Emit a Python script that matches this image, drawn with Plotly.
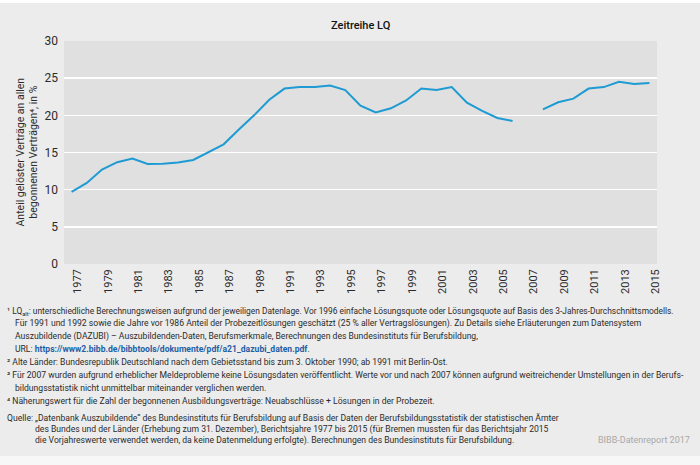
import plotly.graph_objects as go

years = list(range(1977, 2016))
lq_values = [9.7, 10.9, 12.7, 13.7, 14.2, 13.45, 13.5, 13.65, 14.0, 15.0,
             16.1, 18.1, 20.0, 22.1, 23.6, 23.8, 23.8, 24.0, 23.4, 21.3,
             20.4, 20.95, 22.0, 23.6, 23.4, 23.8, 21.7, 20.6, 19.65, 19.25,
             None, 20.8, 21.75, 22.25, 23.6, 23.8, 24.5, 24.2, 24.35]
tick_years = list(range(1977, 2016, 2))
tick_labels = [str(y) for y in tick_years]

title_text = "Zeitreihe LQ"
y_title = "Anteil gelöster Verträge an allen<br>begonnenen Verträgen⁴, in %"

footnotes = [
    (5, 8.4, "¹ LQ<sub>alt</sub>: unterschiedliche Berechnungsweisen aufgrund der jeweiligen Datenlage. Vor 1996 einfache Lösungsquote oder Lösungsquote auf Basis des 3-Jahres-Durchschnittsmodells."),
    (13, 8.6, "Für 1991 und 1992 sowie die Jahre vor 1986 Anteil der Probezeitlösungen geschätzt (25 % aller Vertragslösungen). Zu Details siehe Erläuterungen zum Datensystem"),
    (13, 8.6, "Auszubildende (DAZUBI) – Auszubildenden-Daten, Berufsmerkmale, Berechnungen des Bundesinstituts für Berufsbildung,"),
    (13, 8.6, "URL: <b><span style='color:#1f5fa6'>https://www2.bibb.de/bibbtools/dokumente/pdf/a21_dazubi_daten.pdf</span></b>."),
    (5, 8.6, "² Alte Länder: Bundesrepublik Deutschland nach dem Gebietsstand bis zum 3. Oktober 1990; ab 1991 mit Berlin-Ost."),
    (5, 8.6, "³ Für 2007 wurden aufgrund erheblicher Meldeprobleme keine Lösungsdaten veröffentlicht. Werte vor und nach 2007 können aufgrund weitreichender Umstellungen in der Berufs-"),
    (13, 8.6, "bildungsstatistik nicht unmittelbar miteinander verglichen werden."),
    (5, 8.6, "⁴ Näherungswert für die Zahl der begonnenen Ausbildungsverträge: Neuabschlüsse + Lösungen in der Probezeit."),
]
source_label = "Quelle:"
source_lines = [
    "„Datenbank Auszubildende“ des Bundesinstituts für Berufsbildung auf Basis der Daten der Berufsbildungsstatistik der statistischen Ämter",
    "des Bundes und der Länder (Erhebung zum 31. Dezember), Berichtsjahre 1977 bis 2015 (für Bremen mussten für das Berichtsjahr 2015",
    "die Vorjahreswerte verwendet werden, da keine Datenmeldung erfolgte). Berechnungen des Bundesinstituts für Berufsbildung.",
]
brand = "BIBB-Datenreport 2017"

W, H = 700, 465
L, R, T, B = 64, 43, 41, 201
pw, ph = W - L - R, H - T - B
FONT = "Roboto, 'Noto Sans', sans-serif"
TXT = "#2b2b2b"

def px(x):
    return (x - L) / pw

def py(y):
    return (H - B - y) / ph

fig = go.Figure()
fig.add_trace(go.Scatter(
    x=years, y=lq_values, mode="lines", connectgaps=False,
    line=dict(color="#1e9bd2", width=2), hoverinfo="skip", showlegend=False,
))

ann = []
ann.append(dict(x=px(360.5), y=py(25), xref="paper", yref="paper", text=title_text,
                showarrow=False, xanchor="center", yanchor="middle",
                font=dict(family=FONT, size=11, color="#111", weight=500)))
ann.append(dict(x=px(27), y=py(152.5), xref="paper", yref="paper", text=y_title,
                showarrow=False, xanchor="center", yanchor="middle", textangle=-90,
                font=dict(family=FONT, size=10.5, color=TXT)))

y0, dy = 311, 12.8
for i, (xx, fs, t) in enumerate(footnotes):
    ann.append(dict(x=px(xx), y=py(y0 + i * dy), xref="paper", yref="paper", text=t,
                    showarrow=False, xanchor="left", yanchor="middle", align="left",
                    font=dict(family=FONT, size=fs, color=TXT)))
qy0, qdy = 418, 11
ann.append(dict(x=px(5), y=py(qy0), xref="paper", yref="paper", text=source_label,
                showarrow=False, xanchor="left", yanchor="middle",
                font=dict(family=FONT, size=8.6, color=TXT)))
for i, t in enumerate(source_lines):
    ann.append(dict(x=px(33), y=py(qy0 + i * qdy), xref="paper", yref="paper", text=t,
                    showarrow=False, xanchor="left", yanchor="middle", align="left",
                    font=dict(family=FONT, size=8.6, color=TXT)))
ann.append(dict(x=px(692), y=py(qy0 + 2 * qdy), xref="paper", yref="paper", text=brand,
                showarrow=False, xanchor="right", yanchor="middle",
                font=dict(family=FONT, size=9, color="#a8a8a8")))

shapes = [
    dict(type="rect", xref="paper", yref="paper", x0=px(-5), x1=px(W + 5), y0=py(3), y1=py(-5),
         fillcolor="white", line=dict(width=0), layer="below"),
    dict(type="rect", xref="paper", yref="paper", x0=px(-5), x1=px(W + 5), y0=py(H + 5), y1=py(456),
         fillcolor="#f7f7f7", line=dict(width=0), layer="below"),
]

fig.update_layout(
    width=W, height=H,
    margin=dict(l=L, r=R, t=T, b=B, pad=0),
    paper_bgcolor="#ececec", plot_bgcolor="#e0e0e0",
    font=dict(family=FONT, color=TXT),
    annotations=ann, shapes=shapes, showlegend=False,
    xaxis=dict(range=[1976.5, 2015.5], tickvals=tick_years, ticktext=tick_labels,
               tickangle=-90, showgrid=False, zeroline=False, showline=False,
               ticks="", ticklabelshift=6, ticklabelstandoff=2,
               tickfont=dict(family=FONT, size=11, color=TXT)),
    yaxis=dict(range=[0, 30], dtick=5, showgrid=True, gridcolor="#ffffff", gridwidth=1.5,
               zeroline=False, showline=False, ticks="", ticklabelstandoff=5,
               tickfont=dict(family=FONT, size=12, color=TXT)),
)

fig.write_html("out.html", config={"displayModeBar": False, "staticPlot": True},
               post_script="document.body.style.margin='0';document.body.style.overflow='hidden';")
